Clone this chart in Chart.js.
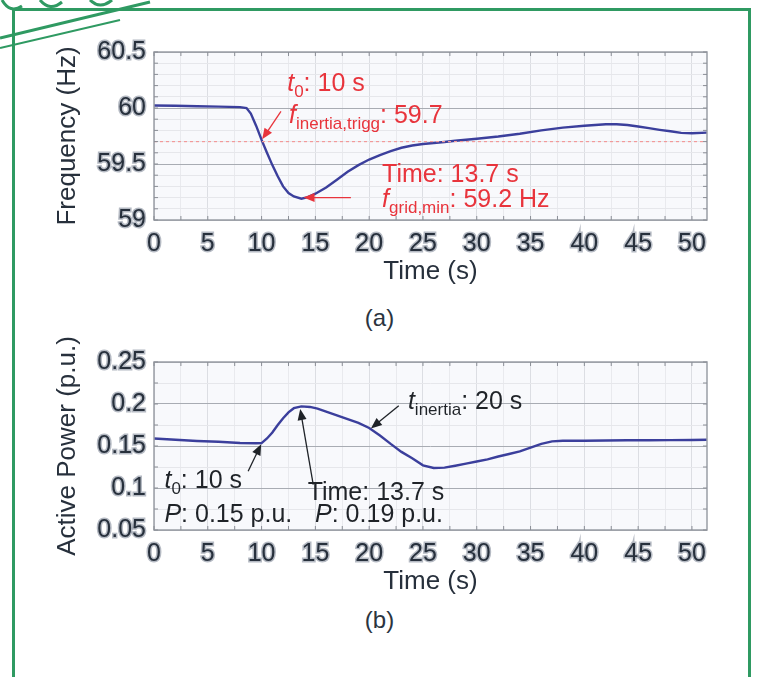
<!DOCTYPE html>
<html>
<head>
<meta charset="utf-8">
<script src="https://cdn.jsdelivr.net/npm/chart.js@4.4.1/dist/chart.umd.min.js"></script>
<style>
  body { margin: 0; background: #fff; width: 759px; height: 677px; overflow: hidden; position: relative;
         font-family: "Liberation Sans", Arial, sans-serif; }
  .frame { position: absolute; left: 12px; top: 8px; width: 733px; height: 700px; border: 3px solid #2f9a62; }
  .box { position: absolute; left: 0; width: 759px; height: 300px; }
  .cap { position: absolute; left: 0; width: 759px; text-align: center; font-size: 24px; color: #2b3440; }
  svg.logo { position: absolute; left: 0; top: 0; }
</style>
</head>
<body>
<div class="frame"></div>
<svg class="logo" width="170" height="50">
  <path d="M0 38 L150 2" stroke="#2f9a62" stroke-width="3" fill="none"/>
  <path d="M0 48 L120 20" stroke="#2f9a62" stroke-width="2" fill="none"/>
  <path d="M2 0 Q10 14 22 6 M40 0 Q50 12 62 2 M90 0 Q100 10 112 0" stroke="#2f9a62" stroke-width="3" fill="none"/>
</svg>
<div class="box" style="top:0"><canvas id="grafFrecuencia"></canvas></div>
<div class="cap" style="top:304px">(a)</div>
<div class="box" style="top:300px"><canvas id="grafPotencia"></canvas></div>
<div class="cap" style="top:606px">(b)</div>
<script>
// Datos
const timeFreq = [0, 2, 4, 6, 8, 8.6, 9, 9.5, 10, 10.5, 11, 11.5, 12, 12.5, 13, 13.7, 14.3, 15, 16, 17, 18, 19, 20,
  21, 22, 23, 24, 25, 26, 27, 28, 30, 32, 34, 36, 38, 40, 42, 43, 44, 45, 46, 47, 48, 49, 50, 51.4];
const freqHz = [60.022, 60.02, 60.015, 60.012, 60.008, 60.0, 59.95, 59.84, 59.715, 59.6, 59.49, 59.39, 59.3, 59.24,
  59.21, 59.19, 59.205, 59.235, 59.29, 59.36, 59.43, 59.49, 59.54, 59.58, 59.615, 59.645, 59.665, 59.678, 59.688,
  59.697, 59.707, 59.725, 59.745, 59.77, 59.8, 59.825, 59.842, 59.855, 59.855, 59.848, 59.835, 59.82, 59.805,
  59.792, 59.778, 59.775, 59.78];
const timePower = [0, 2, 4, 6, 8, 9.5, 10, 10.5, 11, 11.5, 12, 12.5, 13, 13.7, 14.5, 15.2, 16, 17, 18, 19, 20, 21,
  22, 23, 24, 25, 26, 27, 28, 29, 30, 31, 32, 33, 34, 35, 36, 37, 38, 40, 42, 44, 46, 48, 50, 51.4];
const powerPu = [0.159, 0.1575, 0.156, 0.155, 0.1535, 0.1533, 0.1535, 0.159, 0.166, 0.175, 0.183, 0.19, 0.195,
  0.1972, 0.1965, 0.1945, 0.191, 0.1865, 0.182, 0.1775, 0.1715, 0.1625, 0.1525, 0.143, 0.1355, 0.127, 0.1238,
  0.1242, 0.1265, 0.129, 0.1315, 0.134, 0.1375, 0.1405, 0.1435, 0.148, 0.1525, 0.1555, 0.1562, 0.1563, 0.1565,
  0.1568, 0.1568, 0.157, 0.1572, 0.1575];
const triggerHz = 59.7;
const timeTicks = [0, 5, 10, 15, 20, 25, 30, 35, 40, 45, 50];
const freqTicks = [59, 59.5, 60, 60.5];
const powerTicks = [0.05, 0.1, 0.15, 0.2, 0.25];
const timeMax = 51.4;

const FONT = '"Liberation Sans", Arial, sans-serif';
const INK = '#27303c';
const LINE = '#3b3f9c';

function isMajor(list, v) {
  return list.some(t => Math.abs(t - v) < 1e-6);
}

// Texto con cursiva y subindices
function drawRich(ctx, x, y, parts, color) {
  ctx.fillStyle = color;
  ctx.textAlign = 'left';
  ctx.textBaseline = 'alphabetic';
  for (const [txt, st] of parts) {
    const sub = st === 'sub';
    ctx.font = (st === 'i' ? 'italic ' : '') + (sub ? 17 : 25) + 'px ' + FONT;
    ctx.fillText(txt, x, y + (sub ? 6 : 0));
    x += ctx.measureText(txt).width;
  }
}

function drawArrow(ctx, x1, y1, x2, y2, color) {
  const a = Math.atan2(y2 - y1, x2 - x1);
  ctx.strokeStyle = color;
  ctx.fillStyle = color;
  ctx.lineWidth = 1.3;
  ctx.beginPath();
  ctx.moveTo(x1, y1);
  ctx.lineTo(x2 - 7 * Math.cos(a), y2 - 7 * Math.sin(a));
  ctx.stroke();
  ctx.beginPath();
  ctx.moveTo(x2, y2);
  ctx.lineTo(x2 - 11 * Math.cos(a) + 4.5 * Math.sin(a), y2 - 11 * Math.sin(a) - 4.5 * Math.cos(a));
  ctx.lineTo(x2 - 11 * Math.cos(a) - 4.5 * Math.sin(a), y2 - 11 * Math.sin(a) + 4.5 * Math.cos(a));
  ctx.closePath();
  ctx.fill();
}

function notesPlugin(color, texts, arrows) {
  return {
    id: 'notas',
    beforeDraw(chart) {
      const { ctx, chartArea: a } = chart;
      ctx.save();
      ctx.fillStyle = '#f8f9fc';
      ctx.fillRect(a.left, a.top, a.right - a.left, a.bottom - a.top);
      ctx.restore();
    },
    afterDatasetsDraw(chart) {
      const { ctx, chartArea: a, scales: { x, y } } = chart;
      ctx.save();
      // marco y marcas interiores arriba / derecha
      ctx.strokeStyle = '#9a9ea6';
      ctx.lineWidth = 1.5;
      ctx.strokeRect(a.left, a.top, a.right - a.left, a.bottom - a.top);
      ctx.lineWidth = 1;
      ctx.strokeStyle = '#8a8e96';
      x.ticks.forEach(t => {
        const px = x.getPixelForValue(t.value);
        ctx.beginPath(); ctx.moveTo(px, a.top); ctx.lineTo(px, a.top + 4);
        ctx.moveTo(px, a.bottom); ctx.lineTo(px, a.bottom - 4); ctx.stroke();
      });
      y.ticks.forEach(t => {
        const py = y.getPixelForValue(t.value);
        ctx.beginPath(); ctx.moveTo(a.right, py); ctx.lineTo(a.right - 4, py);
        ctx.moveTo(a.left, py); ctx.lineTo(a.left + 4, py); ctx.stroke();
      });
      arrows.forEach(r => drawArrow(ctx, x.getPixelForValue(r.from[0]), y.getPixelForValue(r.from[1]),
        x.getPixelForValue(r.to[0]), y.getPixelForValue(r.to[1]), color));
      texts.forEach(t => drawRich(ctx, x.getPixelForValue(t.at[0]), y.getPixelForValue(t.at[1]), t.parts, color));
      ctx.restore();
    }
  };
}

function makeChart(canvas, cfg) {
  return new Chart(canvas, {
    type: 'line',
    data: { datasets: cfg.datasets },
    options: {
      responsive: true,
      maintainAspectRatio: false,
      animation: false,
      events: [],
      layout: { padding: { left: 52, right: 52, top: cfg.top, bottom: cfg.bottom } },
      plugins: { legend: { display: false }, tooltip: { enabled: false } },
      elements: { point: { radius: 0 } },
      scales: {
        x: {
          type: 'linear', min: 0, max: timeMax,
          border: { display: false },
          grid: { drawTicks: false, color: c => isMajor(timeTicks, c.tick.value) ? '#dcdee3' : '#e9eaee' },
          ticks: {
            stepSize: 2.5, includeBounds: false, autoSkip: false, maxRotation: 0, padding: 9,
            color: INK, textStrokeColor: 'rgba(120,130,145,0.55)', textStrokeWidth: 3,
            font: { size: 25, family: FONT },
            callback: v => isMajor(timeTicks, v) ? String(Math.round(v)) : ''
          },
          title: { display: true, text: 'Time (s)', color: INK, font: { size: 26, family: FONT }, padding: 0 },
          afterFit: s => { s.height = 67; }
        },
        y: {
          min: cfg.ymin, max: cfg.ymax,
          border: { display: false },
          grid: { drawTicks: false, color: c => isMajor(cfg.yTicks, c.tick.value) ? '#a8acb3' : '#e6e7eb' },
          ticks: {
            stepSize: cfg.ystep, includeBounds: false, autoSkip: false, padding: 8,
            color: INK, textStrokeColor: 'rgba(120,130,145,0.55)', textStrokeWidth: 3,
            font: { size: 25, family: FONT },
            callback: v => isMajor(cfg.yTicks, v) ? String(+v.toFixed(3)) : ''
          },
          title: { display: true, text: cfg.ytitle, color: INK, font: { size: 26, family: FONT }, padding: 0 },
          afterFit: s => { s.width = 102; }
        }
      }
    },
    plugins: [notesPlugin(cfg.noteColor, cfg.texts, cfg.arrows)]
  });
}

const RED = '#e8343c';
makeChart(document.getElementById('grafFrecuencia'), {
  top: 52, bottom: 13, ymin: 59, ymax: 60.5, ystep: 0.1, yTicks: freqTicks, ytitle: 'Frequency (Hz)',
  datasets: [
    { data: [{ x: 0, y: triggerHz }, { x: timeMax, y: triggerHz }], borderColor: '#f29a9a', borderWidth: 1.2,
      borderDash: [3, 3] },
    { data: timeFreq.map((t, i) => ({ x: t, y: freqHz[i] })), borderColor: LINE, borderWidth: 2.4 }
  ],
  noteColor: RED,
  texts: [
    { at: [12.38, 60.15], parts: [['t', 'i'], ['0', 'sub'], [': 10 s', '']] },
    { at: [12.55, 59.865], parts: [['f', 'i'], ['inertia,trigg', 'sub'], [': 59.7', '']] },
    { at: [21.2, 59.34], parts: [['Time: 13.7 s', '']] },
    { at: [21.2, 59.115], parts: [['f', 'i'], ['grid,min', 'sub'], [': 59.2 Hz', '']] }
  ],
  arrows: [
    { from: [11.8, 59.97], to: [10.05, 59.72] },
    { from: [18.3, 59.2], to: [13.9, 59.2] }
  ]
});

makeChart(document.getElementById('grafPotencia'), {
  top: 62, bottom: 3, ymin: 0.05, ymax: 0.25, ystep: 0.025, yTicks: powerTicks, ytitle: 'Active Power (p.u.)',
  datasets: [
    { data: timePower.map((t, i) => ({ x: t, y: powerPu[i] })), borderColor: LINE, borderWidth: 2.4 }
  ],
  noteColor: '#1f2328',
  texts: [
    { at: [23.6, 0.194], parts: [['t', 'i'], ['inertia', 'sub'], [': 20 s', '']] },
    { at: [0.97, 0.1], parts: [['t', 'i'], ['0', 'sub'], [': 10 s', '']] },
    { at: [0.97, 0.059], parts: [['P', 'i'], [': 0.15 p.u.', '']] },
    { at: [14.28, 0.0855], parts: [['Time: 13.7 s', '']] },
    { at: [14.97, 0.059], parts: [['P', 'i'], [': 0.19 p.u.', '']] }
  ],
  arrows: [
    { from: [8.75, 0.12], to: [9.96, 0.1522] },
    { from: [14.8, 0.104], to: [13.59, 0.194] },
    { from: [22.75, 0.198], to: [20.16, 0.1708] }
  ]
});
</script>
</body>
</html>
